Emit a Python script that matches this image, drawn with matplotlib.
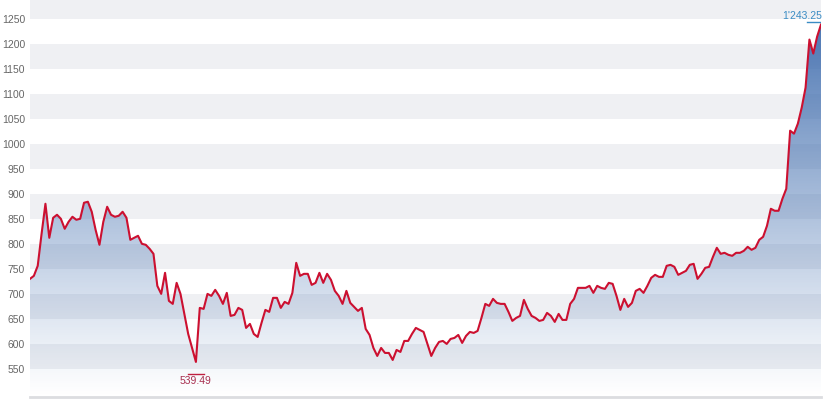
import numpy as np
import matplotlib.pyplot as plt
from matplotlib.ticker import FixedLocator

plt.rcParams['font.family'] = ['Liberation Sans', 'DejaVu Sans']

# koersverloop
prijs = [
    730, 736, 756, 820, 880, 812, 852, 858, 850, 830, 844, 854, 848, 850, 882, 884,
    864, 828, 798, 844, 874, 858, 854, 856, 864, 852, 808, 812, 816, 800, 798, 790,
    780, 716, 700, 742, 686, 680,
    722, 700, 660, 620, 592, 564, 672, 670, 700, 696, 708, 696, 680, 702, 656, 658,
    672, 668, 632, 640, 620, 614, 642, 668, 664, 692, 692, 672, 684, 680, 702, 762,
    736, 740, 740, 718, 722, 742, 722, 740, 728,
    706, 696, 680, 706, 682, 674, 666, 672, 630, 618, 592, 576, 592, 582, 582, 568,
    588, 584, 606, 606, 620, 632, 628, 624, 600, 576, 592, 604, 606, 600, 610, 612,
    618, 602,
    616, 624, 622, 626, 652, 680, 676, 690, 682, 680, 680, 664, 646, 652, 656, 688,
    670, 656, 652, 646, 648, 662, 656, 644, 660, 648, 648, 680, 690, 712, 712, 712,
    716, 702, 716,
    712, 710, 722, 720, 696, 668, 690, 674, 682, 706, 710, 702, 716, 732, 738, 734,
    734, 756, 758, 754, 738, 742, 746, 758, 760, 730, 740, 752, 754, 774, 792, 780,
    782, 778,
    776, 782, 782, 786, 794, 788, 792, 808, 814, 836, 870, 866, 866, 890, 910, 1026,
    1020, 1040, 1072, 1112, 1208, 1180, 1214, 1238,
]
laagste = 539.49
hoogste = 1243.25
yticks = list(range(550, 1251, 50))

y = np.array(prijs, dtype=float)
x = np.arange(len(y))
ymin, ymax = 494, 1287

fig = plt.figure(figsize=(8.3, 4.05), dpi=100)
ax = fig.add_axes([30 / 830, 8 / 405, 791 / 830, 397 / 405])
ax.set_xlim(0, len(y) - 1)
ax.set_ylim(ymin, ymax)

# grijze banden
for b in range(550, 1300, 100):
    ax.axhspan(b, b + 50, color='#eff0f3', lw=0, zorder=0)

# verloop onder de lijn
kleur = np.array([0.24, 0.42, 0.68])
n = 256
verloop = np.zeros((n, 1, 4))
verloop[:, 0, :3] = kleur
verloop[:, 0, 3] = np.linspace(0, 1, n) ** 1.1 * 0.98
vlak = ax.fill_between(x, y, ymin, color='none', lw=0)
im = ax.imshow(verloop, extent=[0, len(y) - 1, ymin, ymax], aspect='auto',
               origin='lower', zorder=1)
im.set_clip_path(vlak.get_paths()[0], transform=ax.transData)

ax.plot(x, y, color='#cc1030', lw=1.5, zorder=3, solid_joinstyle='round')

# min en max
imin = int(np.argmin(y))
ax.plot([imin - 2, imin + 2], [laagste, laagste], color='#c02040', lw=1, zorder=3)
ax.annotate('539.49', (imin, laagste), xytext=(0, -1.5), textcoords='offset points',
            ha='center', va='top', fontsize=7.5, color='#a83050')
imax = len(y) - 1
ax.plot([imax - 3.5, imax], [hoogste, hoogste], color='#3a8cc4', lw=1, zorder=3)
ax.annotate("1'243.25", (imax, hoogste), xytext=(1, 1), textcoords='offset points',
            ha='right', va='bottom', fontsize=7.5, color='#3a8cc4')

ax.yaxis.set_major_locator(FixedLocator(yticks))
ax.set_yticklabels([str(t) for t in yticks])
ax.tick_params(axis='y', length=0, pad=3.5, labelsize=7.5, labelcolor='#666666')
ax.set_xticks([])
for s in ['top', 'right', 'left']:
    ax.spines[s].set_visible(False)
ax.spines['bottom'].set_color('#dcdde0')
ax.spines['bottom'].set_linewidth(2)

fig.savefig('out.png', dpi=100)
